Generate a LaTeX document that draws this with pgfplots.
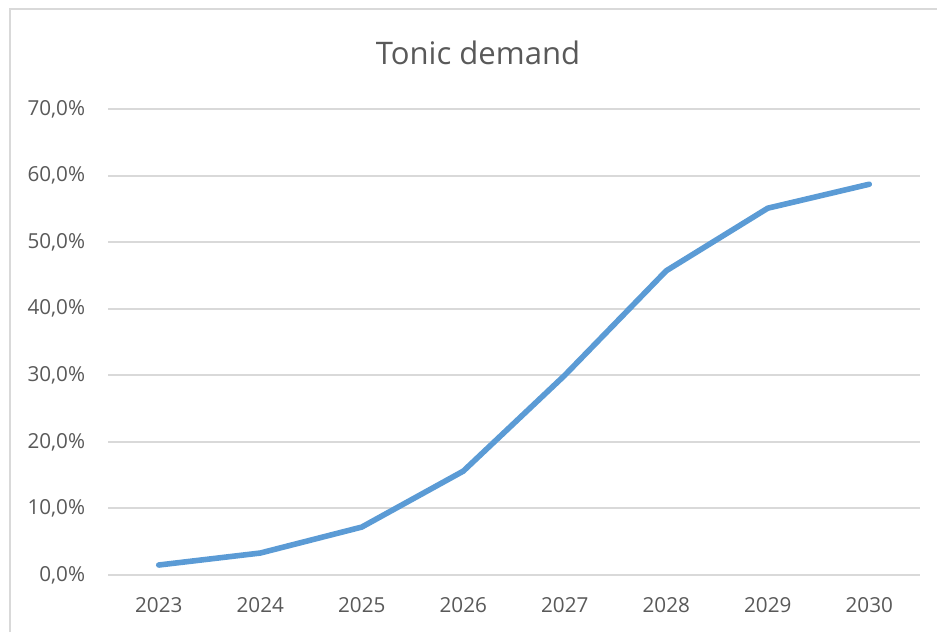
\documentclass[border=0pt]{standalone}
\usepackage{pgfplots}
\pgfplotsset{compat=1.18}
\usepackage{fontspec}
\setmainfont{Open Sans}
\definecolor{gridgray}{HTML}{D9D9D9}
\definecolor{labgray}{HTML}{595959}
\definecolor{lineblue}{HTML}{5B9BD5}
\begin{document}
\begin{tikzpicture}
\useasboundingbox (0,0) rectangle (702.75pt,474pt);
\draw[gridgray,line width=1.4pt] (7.5pt,0) -- (7.5pt,467.25pt) -- (702.75pt,467.25pt);
\node[labgray,font=\fontsize{23.3}{28}\selectfont] at (358.5pt,434.25pt) {Tonic demand};
\begin{axis}[
  at={(81pt,42.75pt)}, anchor=south west,
  scale only axis, width=609pt, height=349.5pt,
  xmin=-0.5, xmax=7.5, ymin=0, ymax=70,
  xtick={0,...,7},
  xticklabels={2023,2024,2025,2026,2027,2028,2029,2030},
  ytick={0,10,...,70},
  yticklabel={\pgfmathprintnumber[fixed,fixed zerofill,precision=1,use comma]{\tick}\%},
  /pgf/number format/assume math mode=true,
  major tick length=0pt,
  axis lines*=left,
  x axis line style={gridgray,line width=1.5pt,-},
  y axis line style={draw=none,-},
  ymajorgrids, grid style={gridgray,line width=1.5pt},
  yticklabel style={inner sep=0pt, xshift=-17pt},
  xticklabel style={inner sep=0pt, yshift=-17pt},
  tick label style={labgray,font=\fontsize{15.5}{18}\selectfont},
  clip=false,
]
\addplot[lineblue, line width=4.2pt, line join=round, line cap=round] coordinates {
(0,1.5) (1,3.3) (2,7.2) (3,15.6) (4,30.0) (5,45.7) (6,55.1) (7,58.7)
};
\end{axis}
\end{tikzpicture}
\end{document}
